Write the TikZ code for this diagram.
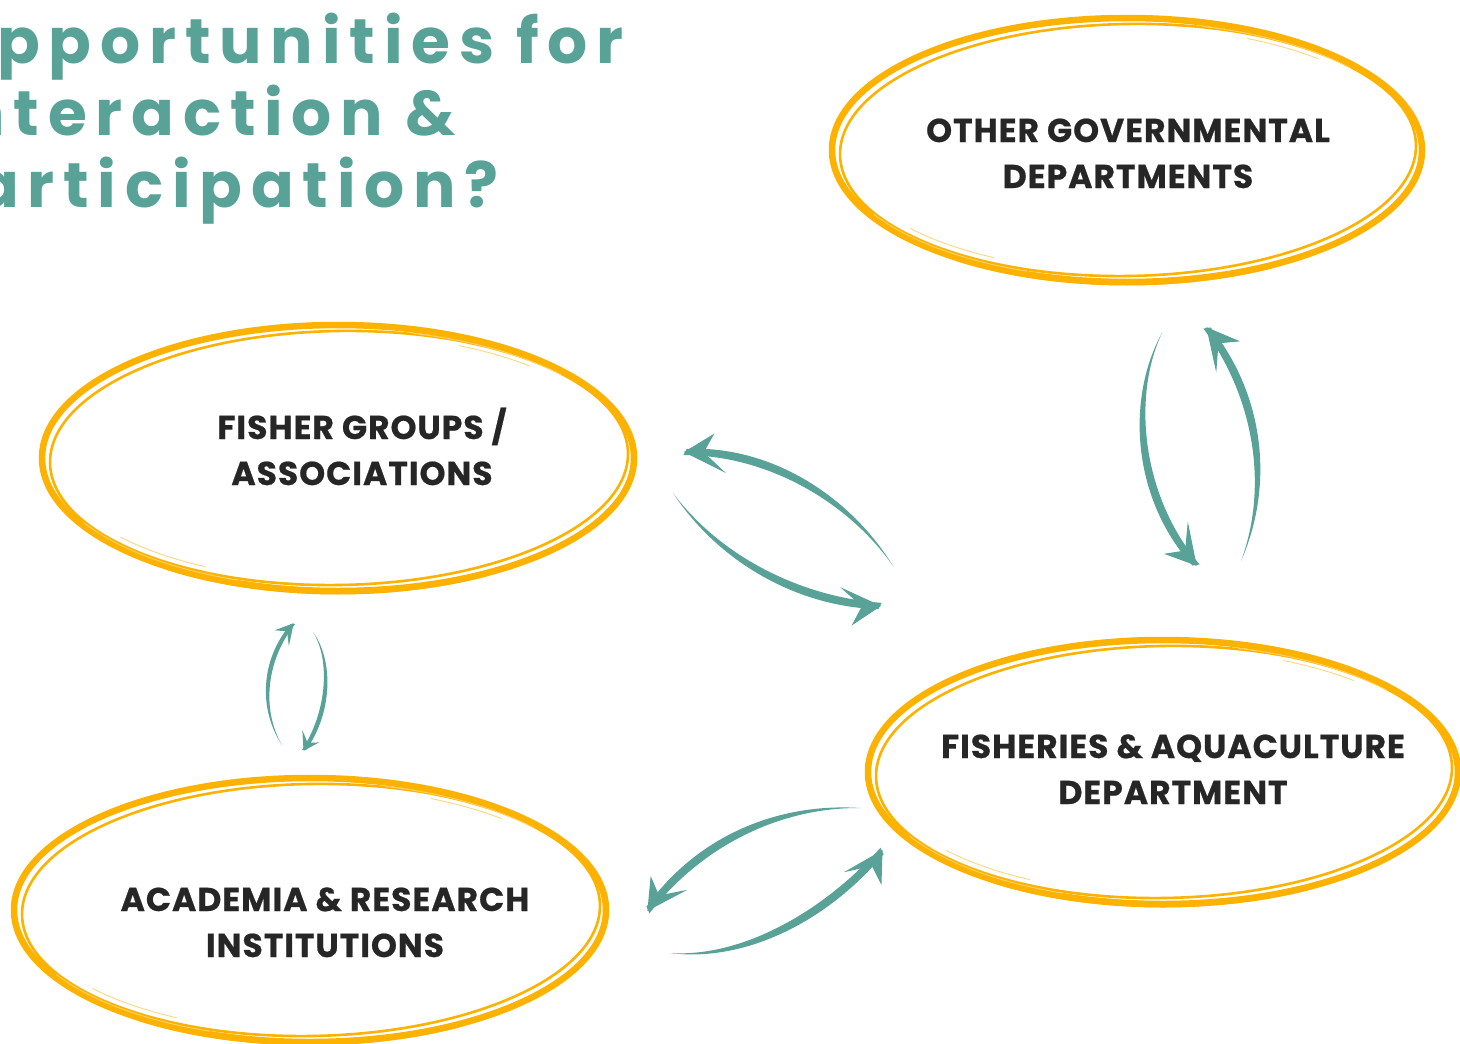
\documentclass[tikz,border=0pt]{standalone}
\usepackage{fontspec}
\setmainfont{Poppins}
\newfontfamily\titlefont[LetterSpace=14]{Poppins}
\newfontfamily\labelfont[LetterSpace=3, BoldFeatures={FakeBold=0.6}]{Poppins}
\usetikzlibrary{calc,shapes.geometric}

\definecolor{ringorange}{RGB}{254,178,0}
\definecolor{linkteal}{RGB}{88,162,152}
\definecolor{ink}{RGB}{38,38,38}

\tikzset{
  ringnode/.style={ellipse, draw=none, inner sep=0pt},
  ringthick/.style={draw=ringorange, line width=6.5pt},
  ringthin/.style={draw=ringorange, line width=2.6pt},
  ringfaint/.style={draw=ringorange!55, line width=0.8pt},
  lbl/.style={font=\labelfont\bfseries\fontsize{33}{46}\selectfont, text=ink,
    align=center, inner sep=0pt},
  headline/.style={font=\titlefont\bfseries\fontsize{63}{72}\selectfont,
    text=linkteal, inner sep=0pt},
  arrowfill/.style={fill=linkteal},
  barbhead/.style={fill=linkteal, draw=linkteal, line width=1pt, line join=miter},
}

% hand-brushed oval around a ring node: #1 node, #2 x radius, #3 y radius
\newcommand\brushring[3]{%
  \draw[ringthick] (#1.center) ellipse [x radius=#2, y radius=#3];
  \draw[ringthin, rotate around={1.0:(#1.center)}]
    ($(#1.center)+(1,0)$) ellipse [x radius=#2-7, y radius=#3-6];
  \draw[ringorange, line width=3pt]
    ($(#1.center)+(60:#2+1 and #3+2)$) arc [start angle=60, end angle=125,
      x radius=#2+1, y radius=#3+2];
  \draw[ringfaint] ($(#1.center)+(110:#2-3 and #3-3)$) arc [start angle=110,
      end angle=150, x radius=#2-3, y radius=#3-3];
  \draw[ringfaint] ($(#1.center)+(118:#2-12 and #3-10)$) arc [start angle=118,
      end angle=140, x radius=#2-12, y radius=#3-10];
  \draw[ringfaint] ($(#1.center)+(285:#2-4 and #3-4)$) arc [start angle=285,
      end angle=320, x radius=#2-4, y radius=#3-4];
  \draw[ringfaint] ($(#1.center)+(295:#2-10 and #3-9)$) arc [start angle=295,
      end angle=312, x radius=#2-10, y radius=#3-9];
}

% tapered teal stroke ending in a barbed head:
% #1 tail, #2 first control, #3 second control, #4 tip, #5 #6 barb ends, #7 width
\newcommand\taperarrow[7]{%
  \coordinate (tv) at ($(#4)-(#1)$);
  \coordinate (nv) at ($(0,0)!1pt!90:(tv)$);
  \fill[arrowfill] (#1)
    .. controls ($(#2)+{-0.3*#7}*(nv)$) and ($(#3)+{-0.6*#7}*(nv)$) .. ($(#4)+{-0.4*#7}*(nv)$)
    -- ($(#4)+{0.4*#7}*(nv)$)
    .. controls ($(#3)+{0.6*#7}*(nv)$) and ($(#2)+{0.3*#7}*(nv)$) .. (#1) -- cycle;
  \filldraw[barbhead] (#4) -- (#5) -- ($(#4)!0.55!($(#5)!0.5!(#6)$)$) -- (#6) -- cycle;
}

\begin{document}
\begin{tikzpicture}[x=1pt, y=-1pt]
  \useasboundingbox (0,0) rectangle (1460,1044);
  \fill[white] (0,0) rectangle (1460,1044);

  % heading, running off the left edge
  \node[headline, anchor=base east] (title1) at (624,63) {Opportunities for};
  \node[headline, anchor=base east] (title2) at (456,135) {Interaction \&};
  \node[headline, anchor=base east] (title3) at (499,207) {Participation?};

  % the four stakeholder ovals
  \node[ringnode, minimum width=590, minimum height=264] (gov) at (1127,150) {};
  \node[ringnode, minimum width=592, minimum height=266] (fisher) at (338,458) {};
  \node[ringnode, minimum width=592, minimum height=264] (academia) at (310,910) {};
  \node[ringnode, minimum width=590, minimum height=264] (fad) at (1163,772) {};
  \brushring{gov}{295}{132}
  \brushring{fisher}{296}{133}
  \brushring{academia}{296}{132}
  \brushring{fad}{295}{132}

  % labels, placed by the baseline of their last line
  \node[lbl, anchor=base] (govtext) at (1128,188) {OTHER GOVERNMENTAL\\DEPARTMENTS};
  \node[lbl, anchor=base] (fishertext) at (362,485) {FISHER GROUPS /\\ASSOCIATIONS};
  \node[lbl, anchor=base] (academiatext) at (325,957) {ACADEMIA \& RESEARCH\\INSTITUTIONS};
  \node[lbl, anchor=base] (fadtext) at (1173,804) {FISHERIES \& AQUACULTURE\\DEPARTMENT};

  % fisher groups <-> fisheries department
  \coordinate (fa-t) at (893,566);  \coordinate (fa-h) at (685,452);
  \taperarrow{fa-t}{850,500}{770,450}{fa-h}{713,435}{723,471}{9}
  \coordinate (af-t) at (673,493);  \coordinate (af-h) at (880,606);
  \taperarrow{af-t}{720,560}{800,602}{af-h}{843,589}{853,624}{9}

  % other departments <-> fisheries department
  \coordinate (gd-t) at (1162,333); \coordinate (gd-h) at (1196,565);
  \taperarrow{gd-t}{1130,395}{1135,495}{gd-h}{1166,554}{1188,525}{9}
  \coordinate (dg-t) at (1241,561); \coordinate (dg-h) at (1207,328);
  \taperarrow{dg-t}{1270,490}{1262,400}{dg-h}{1238,341}{1216,369}{9}

  % fisher groups <-> academia
  \coordinate (ar-t) at (282,745);  \coordinate (ar-h) at (293,624);
  \taperarrow{ar-t}{260,710}{263,660}{ar-h}{277,630}{289,643}{5}
  \coordinate (ra-t) at (313,632);  \coordinate (ra-h) at (304,750);
  \taperarrow{ra-t}{332,660}{330,712}{ra-h}{303,733}{317,743}{5}

  % fisheries department <-> academia
  \coordinate (da-t) at (860,808);  \coordinate (da-h) at (648,910);
  \taperarrow{da-t}{780,805}{700,840}{da-h}{651,878}{684,891}{9}
  \coordinate (ad-t) at (670,953);  \coordinate (ad-h) at (882,851);
  \taperarrow{ad-t}{740,960}{822,920}{ad-h}{847,871}{881,883}{9}
\end{tikzpicture}
\end{document}
